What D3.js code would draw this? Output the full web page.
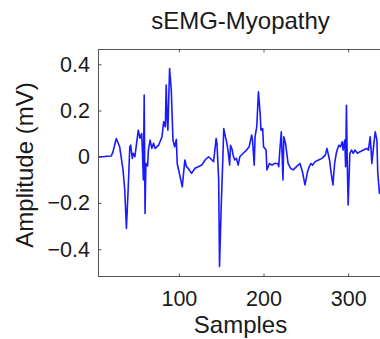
<!DOCTYPE html>
<html>
<head>
<meta charset="utf-8">
<script src="https://cdn.jsdelivr.net/npm/d3@7"></script>
<style>
  body { margin: 0; background: #fff; }
  svg { display: block; font-family: "Liberation Sans", Arial, sans-serif; }
</style>
</head>
<body>
<div id="chart"></div>
<script>
// signal: sample index -> amplitude (mV)
var sampleIdx = [5,10,15,20,22,26,30,34,36,38,40,42,43,45,46,48,50,52,54,56,57,58,59,60,61,63,64,66,68,70,72,76,80,82,84,85,86,87,89,91,93,95,97,98,101,104,107,109,111,115,119,123,127,131,135,139,141,144,145,147,148,150,152,153,155,156,158,160,161,163,164,166,168,170,172,176,180,183,186,187,189,190,192,194,196,197,199,200,203,204,207,210,213,217,218,219,221,223,224,226,229,232,235,239,243,246,249,252,254,256,258,261,265,269,273,275,278,280,282,284,286,287,289,291,293,294,296,297,298,299,300,302,304,306,308,311,314,318,322,324,326,327,328,330,332,334,335,337,340];
var amplitude = [0,0,0.002,0.003,0.02,0.079,0.043,-0.057,-0.144,-0.31,-0.144,0.043,0.05,-0.007,0.015,0,0.058,0.115,0.08,0.1,0.015,-0.1,0.267,-0.245,-0.029,-0.04,0.03,0.072,0.036,0.058,0.036,0.05,0.086,0.151,0.13,0.31,0.173,0.115,0.382,0.288,0.072,0.043,0.075,-0.029,-0.079,-0.13,-0.014,-0.043,-0.05,-0.072,-0.05,-0.043,-0.036,-0.014,0,-0.014,-0.021,0.079,0.058,-0.1,-0.475,-0.216,0,0.122,0.086,0.072,0.029,-0.036,0.05,0.03,0.007,-0.014,-0.007,-0.036,0,0.015,0.029,0.043,0.094,0.072,-0.036,0.086,0.13,0.281,0.187,0.115,0.122,0.043,0.029,-0.057,-0.029,-0.036,-0.029,-0.029,-0.043,0.015,0.108,-0.1,0.086,0.058,-0.029,-0.05,-0.057,-0.043,-0.029,-0.065,-0.122,-0.065,-0.043,-0.029,-0.036,-0.021,-0.014,-0.007,0.007,0.036,-0.014,-0.072,-0.122,-0.029,0.015,0.029,0.05,0.043,0.065,0.029,0.072,-0.043,0.223,-0.036,-0.209,0.015,0.029,0.015,0.029,0.015,0.022,0.029,0.036,0.029,0.086,0.036,-0.029,0.043,0.108,0.072,-0.072,-0.158,-0.12];

var xTicks = [100, 200, 300];
var yTicks = [-0.4, -0.2, 0, 0.2, 0.4];

var W = 380, H = 339;
var margin = {left: 98.5, right: 382, top: 49.5, bottom: 276.5};

var svg = d3.select('#chart')
  .append('svg')
  .attr('width', W)
  .attr('height', H);

var x = d3.scaleLinear().domain([5, 340]).range([margin.left, margin.right]);
var y = d3.scaleLinear().domain([-0.518, 0.464]).range([margin.bottom, margin.top]);

var data = sampleIdx.map(function(s, i) { return {s: s, v: amplitude[i]}; });

svg.append('clipPath').attr('id', 'plotclip')
  .append('rect')
  .attr('x', margin.left).attr('y', margin.top)
  .attr('width', margin.right - margin.left).attr('height', margin.bottom - margin.top);

var line = d3.line()
  .x(function(d) { return x(d.s); })
  .y(function(d) { return y(d.v); });

svg.append('path')
  .datum(data)
  .attr('clip-path', 'url(#plotclip)')
  .attr('fill', 'none')
  .attr('stroke', '#1a1aff')
  .attr('stroke-width', 1.6)
  .attr('stroke-linejoin', 'round')
  .attr('d', line);

// bottom axis with inward ticks
var xAxis = svg.append('g')
  .attr('transform', 'translate(0,' + margin.bottom + ')')
  .call(d3.axisBottom(x).tickValues(xTicks).tickSizeInner(-3).tickSizeOuter(0).tickPadding(14));

// top inward ticks
var xTop = svg.append('g')
  .attr('transform', 'translate(0,' + margin.top + ')')
  .call(d3.axisTop(x).tickValues(xTicks).tickSizeInner(-3).tickSizeOuter(0).tickFormat(''));

var yAxis = svg.append('g')
  .attr('transform', 'translate(' + margin.left + ',0)')
  .call(d3.axisLeft(y).tickValues(yTicks).tickSizeInner(-3).tickSizeOuter(0).tickPadding(8.5)
    .tickFormat(function(d) { return d === 0 ? '0' : d3.format('.1f')(d); }));

[xAxis, xTop, yAxis].forEach(function(g) {
  g.select('.domain').remove();
  g.selectAll('.tick line').attr('stroke', '#555');
  g.selectAll('text')
    .attr('fill', '#1a1a1a')
    .style('font-size', '21.5px')
    .style('font-family', '"Liberation Sans", Arial, sans-serif');
});

// plot box
svg.append('rect')
  .attr('x', margin.left).attr('y', margin.top)
  .attr('width', margin.right - margin.left).attr('height', margin.bottom - margin.top)
  .attr('fill', 'none')
  .attr('stroke', '#555')
  .attr('stroke-width', 1);

svg.append('text')
  .attr('x', 240.5).attr('y', 29)
  .attr('text-anchor', 'middle')
  .attr('fill', '#1a1a1a')
  .style('font-size', '24px')
  .text('sEMG-Myopathy');

svg.append('text')
  .attr('x', 240.5).attr('y', 333)
  .attr('text-anchor', 'middle')
  .attr('fill', '#1a1a1a')
  .style('font-size', '24px')
  .text('Samples');

svg.append('text')
  .attr('transform', 'translate(33,165) rotate(-90)')
  .attr('text-anchor', 'middle')
  .attr('fill', '#1a1a1a')
  .style('font-size', '24px')
  .text('Amplitude (mV)');
</script>
</body>
</html>
